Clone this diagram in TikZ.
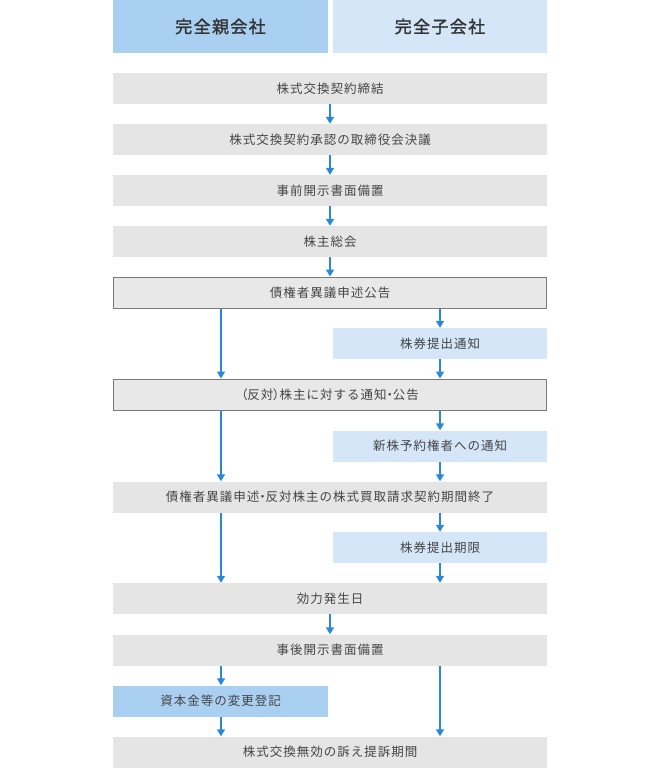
\documentclass[tikz,border=0pt]{standalone}
\usepackage{fontspec}
\newfontfamily\cjk[LetterSpace=8]{Noto Sans CJK JP}
\newfontfamily\cjkp[RawFeature=+palt]{Noto Sans CJK JP}
\newfontfamily\cjkh[LetterSpace=8,FakeBold=1.5]{Noto Sans CJK JP}
\newcommand{\pp}[1]{{\cjkp #1}}
\usetikzlibrary{arrows.meta}
\definecolor{grayfill}{HTML}{E5E5E5}
\definecolor{bordfill}{HTML}{E8E8E8}
\definecolor{bordline}{HTML}{7A7A7A}
\definecolor{lightblue}{HTML}{D4E6F7}
\definecolor{midblue}{HTML}{AAD0F1}
\definecolor{arrowblue}{HTML}{2A88DA}
\definecolor{txt}{HTML}{454545}
\definecolor{htxt}{HTML}{333333}
\tikzset{
  box/.style={inner sep=0pt, minimum height=31pt, text=txt, font=\cjk\fontsize{12.5}{14}\selectfont},
  fullrow/.style={box, fill=grayfill, minimum width=434pt},
  bordrow/.style={box, fill=bordfill, draw=bordline, line width=1pt, minimum width=433pt},
  rightbox/.style={box, fill=lightblue, minimum width=214pt},
  leftbox/.style={box, fill=midblue, minimum width=215pt},
  head/.style={inner sep=0pt, minimum height=53pt, text=htxt, font=\cjkh\fontsize{17}{19}\selectfont},
  conn/.style={draw=arrowblue, line width=1.6pt, -{Triangle[length=7pt,width=8pt]}}
}
\begin{document}
\begin{tikzpicture}[x=1pt,y=-1pt]
\useasboundingbox (0,0) rectangle (661,768);
% headers
\node[head, fill=midblue, minimum width=215pt] (hl) at (220.5,26.5) {完全親会社};
\node[head, fill=lightblue, minimum width=214pt] (hr) at (440,26.5) {完全子会社};
% rows
\node[fullrow] (r1) at (330,88.5) {株式交換契約締結};
\node[fullrow] (r2) at (330,139.5) {株式交換契約承認の取締役会決議};
\node[fullrow] (r3) at (330,190.5) {事前開示書面備置};
\node[fullrow] (r4) at (330,241.5) {株主総会};
\node[bordrow] (r5) at (330,292.5) {債権者異議申述公告};
\node[rightbox] (b1) at (440,343.5) {株券提出通知};
\node[bordrow] (r6) at (330,394.5) {\pp{（}反対\pp{）}株主に対する通知\pp{・}公告};
\node[rightbox] (b2) at (440,446) {新株予約権者への通知};
\node[fullrow] (r7) at (330,497) {債権者異議申述\pp{・}反対株主の株式買取請求契約期間終了};
\node[rightbox] (b3) at (440,547.5) {株券提出期限};
\node[fullrow] (r8) at (330,598.5) {効力発生日};
\node[fullrow] (r9) at (330,650) {事後開示書面備置};
\node[leftbox] (c1) at (220.5,701) {資本金等の変更登記};
\node[fullrow] (r10) at (330,752) {株式交換無効の訴え提訴期間};
% column guides
\coordinate (lx) at (221,0);
\coordinate (rx) at (440,0);
% center arrows
\draw[conn] (r1.south) -- (r2.north);
\draw[conn] (r2.south) -- (r3.north);
\draw[conn] (r3.south) -- (r4.north);
\draw[conn] (r4.south) -- (r5.north);
\draw[conn] (r8.south) -- (r9.north);
% left arrows
\draw[conn] (r5.south -| lx) -- (r6.north -| lx);
\draw[conn] (r6.south -| lx) -- (r7.north -| lx);
\draw[conn] (r7.south -| lx) -- (r8.north -| lx);
\draw[conn] (r9.south -| lx) -- (c1.north -| lx);
\draw[conn] (c1.south -| lx) -- (r10.north -| lx);
% right arrows
\draw[conn] (r5.south -| rx) -- (b1.north);
\draw[conn] (b1.south) -- (r6.north -| rx);
\draw[conn] (r6.south -| rx) -- (b2.north);
\draw[conn] (b2.south) -- (r7.north -| rx);
\draw[conn] (r7.south -| rx) -- (b3.north);
\draw[conn] (b3.south) -- (r8.north -| rx);
\draw[conn] (r9.south -| rx) -- (r10.north -| rx);
\end{tikzpicture}
\end{document}
